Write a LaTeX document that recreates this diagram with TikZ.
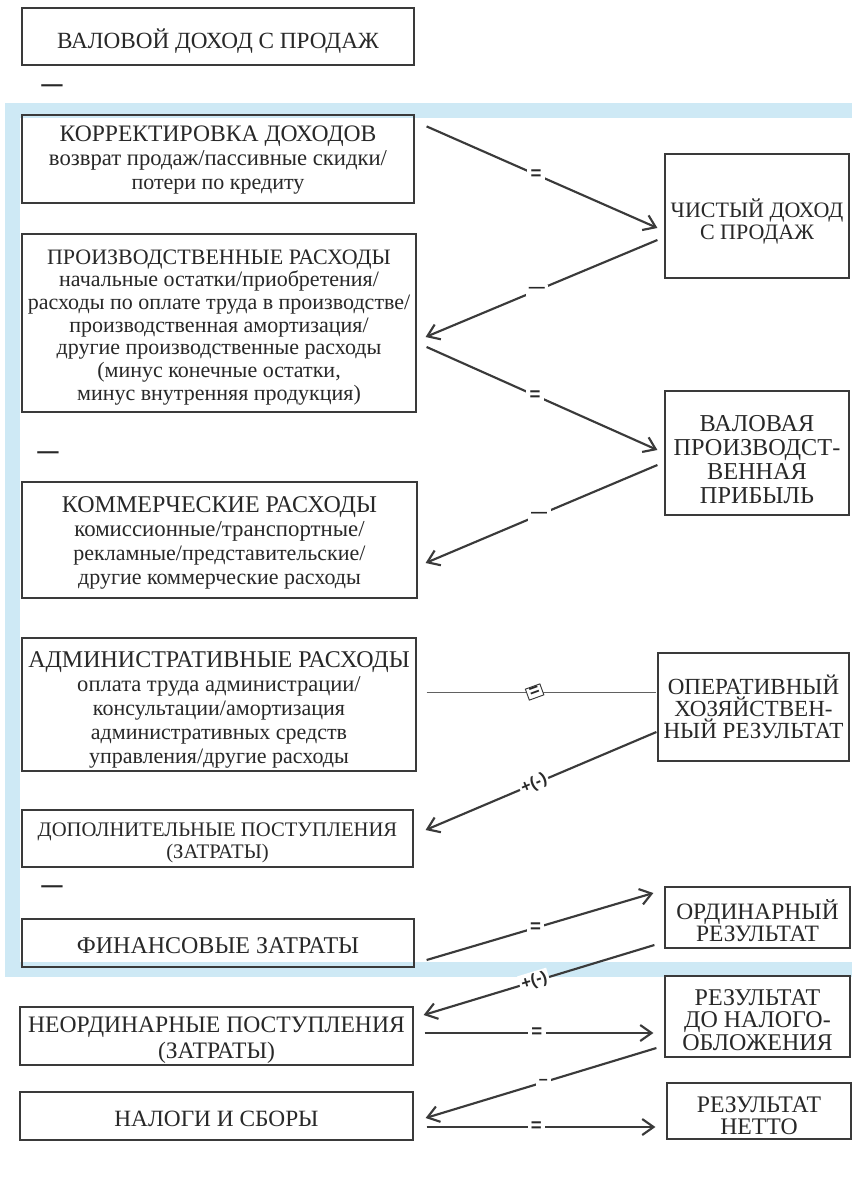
\documentclass[tikz,border=0pt]{standalone}
\usepackage{fontspec}
\setmainfont{Liberation Serif}
\newfontfamily\lblfont{Liberation Sans}
\usetikzlibrary{arrows.meta,calc}
\definecolor{wm}{RGB}{206,233,245}
\definecolor{ink}{RGB}{58,58,58}
\definecolor{txt}{RGB}{40,40,40}
\newcommand\fsz[2]{\fontsize{#1}{#2}\selectfont}
\begin{document}
\begin{tikzpicture}[x=0.75pt,y=-0.75pt,
  box/.style={draw=ink,line width=0.9pt,rectangle,inner sep=0pt},
  boxtext/.style={inner sep=0pt,align=center,text=txt,font=\fsz{16.5}{18}},
  conn/.style={draw=ink,line width=1.6pt,-{Straight Barb[length=8.5pt,width=12pt,line width=1.6pt]}},
  thinline/.style={draw=ink!80,line width=0.6pt},
  lbl/.style={fill=white,inner sep=2.5pt,text=txt,font=\lblfont\bfseries\fsz{14}{14}},
  dlbl/.style={lbl,font=\lblfont\bfseries\fsz{12}{12}},
  slbl/.style={fill=white,inner sep=1.5pt,text=txt,font=\lblfont\bfseries\fsz{12.5}{12.5},sloped},
  minus/.style={text=txt,inner sep=0pt,font=\lblfont\bfseries\fsz{16}{16}}]
\useasboundingbox (0,0) rectangle (852,1191);
\fill[white] (0,0) rectangle (852,1191);
% watermark frame
\fill[wm] (5,103) rectangle (852,118);
\fill[wm] (5,103) rectangle (20,977);
\fill[wm] (5,962) rectangle (852,977);

% left boxes
\node[box,minimum width=294pt,minimum height=42.75pt] (b1) at (218,36.5) {};
\node[boxtext,font=\fsz{17.4}{18}] (b1t) at ([yshift=-3.5pt]b1.center) {ВАЛОВОЙ ДОХОД С ПРОДАЖ};
\node[box,minimum width=294pt,minimum height=66pt] (b2) at (218,159) {};
\node[boxtext] (b2t) at ([yshift=-1.1pt]b2.center) {\fsz{17.7}{18.4}КОРРЕКТИРОВКА ДОХОДОВ\\\fsz{17}{18.4}возврат продаж/пассивные скидки/\\потери по кредиту};
\node[box,minimum width=295.5pt,minimum height=133.5pt] (b3) at (219,323) {};
\node[boxtext,font=\fsz{16.5}{17}] (b3t) at ([yshift=-3.2pt]b3.center) {ПРОИЗВОДСТВЕННЫЕ РАСХОДЫ\\начальные остатки/приобретения/\\расходы по оплате труда в производстве/\\производственная амортизация/\\другие производственные расходы\\(минус конечные остатки,\\минус внутренняя продукция)};
\node[box,minimum width=296.25pt,minimum height=87pt] (b4) at (219.5,540) {};
\node[boxtext] (b4t) at ([yshift=-2.25pt]b4.center) {\fsz{18}{18.75}КОММЕРЧЕСКИЕ РАСХОДЫ\\\fsz{17.1}{18.75}комиссионные/транспортные/\\рекламные/представительские/\\другие коммерческие расходы};
\node[box,minimum width=295.5pt,minimum height=99.75pt] (b5) at (219,704.5) {};
\node[boxtext] (b5t) at ([yshift=-3.75pt]b5.center) {\fsz{18}{18}АДМИНИСТРАТИВНЫЕ РАСХОДЫ\\\fsz{16.9}{18}оплата труда администрации/\\консультации/амортизация\\административных средств\\управления/другие расходы};
\node[box,minimum width=293.25pt,minimum height=42.75pt] (b6) at (217.5,838.5) {};
\node[boxtext,font=\fsz{15.5}{16.5}] (b6t) at ([yshift=-3pt]b6.center) {ДОПОЛНИТЕЛЬНЫЕ ПОСТУПЛЕНИЯ\\(ЗАТРАТЫ)};
\node[box,minimum width=294pt,minimum height=36pt] (b7) at (218,943) {};
\node[boxtext,font=\fsz{18}{18}] (b7t) at ([yshift=-2.25pt]b7.center) {ФИНАНСОВЫЕ ЗАТРАТЫ};
\node[box,minimum width=294.75pt,minimum height=43.5pt] (b8) at (216.5,1036) {};
\node[boxtext,font=\fsz{17.7}{19.5}] (b8t) at ([yshift=-3.4pt]b8.center) {НЕОРДИНАРНЫЕ ПОСТУПЛЕНИЯ\\(ЗАТРАТЫ)};
\node[box,minimum width=294.75pt,minimum height=36pt] (b9) at (216.5,1116) {};
\node[boxtext,font=\fsz{17.5}{18}] (b9t) at ([yshift=-2.25pt]b9.center) {НАЛОГИ И СБОРЫ};

% right boxes
\node[box,minimum width=138pt,minimum height=93pt] (r1) at (757,216) {};
\node[boxtext,font=\fsz{16.5}{16.5}] (r1t) at ([yshift=-4.5pt]r1.center) {ЧИСТЫЙ ДОХОД\\С ПРОДАЖ};
\node[box,minimum width=138pt,minimum height=93pt] (r2) at (757,453) {};
\node[boxtext,font=\fsz{18.2}{18}] (r2t) at ([yshift=-4.7pt]r2.center) {ВАЛОВАЯ\\ПРОИЗВОДСТ-\\ВЕННАЯ\\ПРИБЫЛЬ};
\node[box,minimum width=143.25pt,minimum height=81pt] (r3) at (753.5,707) {};
\node[boxtext,font=\fsz{17.3}{16.5}] (r3t) at (r3.center) {ОПЕРАТИВНЫЙ\\ХОЗЯЙСТВЕН-\\НЫЙ РЕЗУЛЬТАТ};
\node[box,minimum width=138.75pt,minimum height=45.75pt] (r4) at (757.5,917.5) {};
\node[boxtext,font=\fsz{17.6}{16.5}] (r4t) at ([yshift=-2.25pt]r4.center) {ОРДИНАРНЫЙ\\РЕЗУЛЬТАТ};
\node[box,minimum width=138.75pt,minimum height=60.75pt] (r5) at (757.5,1016.5) {};
\node[boxtext,font=\fsz{18}{17}] (r5t) at ([yshift=-2.6pt]r5.center) {РЕЗУЛЬТАТ\\ДО НАЛОГО-\\ОБЛОЖЕНИЯ};
\node[box,minimum width=138pt,minimum height=42pt] (r6) at (759,1111) {};
\node[boxtext,font=\fsz{17.8}{16.5}] (r6t) at ([yshift=-3.75pt]r6.center) {РЕЗУЛЬТАТ\\НЕТТО};

% minus signs between groups
\node[minus] (m1) at (52,88) {—};
\node[minus] (m2) at (48,455) {—};
\node[minus] (m3) at (52,889) {—};

% connectors
\draw[conn] ([shift={(12,12)}]b2.north east) -- node[lbl,pos=0.474] {=} ([shift={(-7,12)}]r1.west);
\draw[conn] ([shift={(-7,24)}]r1.west) -- node[dlbl,pos=0.52] {—} ([shift={(9,14)}]b3.east);
\draw[conn] ([shift={(10,24)}]b3.east) -- node[lbl,pos=0.47] {=} ([shift={(-7,-3)}]r2.west);
\draw[conn] ([shift={(-7,12)}]r2.west) -- node[dlbl,pos=0.51] {—} ([shift={(8,23)}]b4.east);
\draw[thinline] ([shift={(10,-12.5)}]b5.east) -- node[pos=0.47,draw=ink,fill=white,line width=0.7pt,rotate=20,inner xsep=2pt,inner ysep=1pt,text=txt,font=\lblfont\bfseries\fsz{13}{13}] {=} ([shift={(-1,-15)}]r3.west);
\draw[conn] ([shift={(-1,25)}]r3.west) -- node[slbl,pos=0.53] {+(-)} ([shift={(12,-8.5)}]b6.east);
\draw[conn] ([shift={(12,17)}]b7.east) -- node[lbl,pos=0.48] {=} ([shift={(-11,-24.5)}]r4.west);
\draw[conn] ([shift={(-10,27.5)}]r4.west) -- node[slbl,pos=0.52] {+(-)} ([shift={(10,-21)}]b8.east);
\draw[conn] ([shift={(11,-3)}]b8.east) -- node[lbl,pos=0.49] {=} ([shift={(-11,16.5)}]r5.west);
\draw[conn] ([shift={(-8,31.5)}]r5.west) -- node[dlbl,pos=0.49] {–} ([shift={(12,2)}]b9.east);
\draw[conn] ([shift={(13,11)}]b9.east) -- node[lbl,pos=0.48] {=} ([shift={(-11,16)}]r6.west);
\end{tikzpicture}
\end{document}
